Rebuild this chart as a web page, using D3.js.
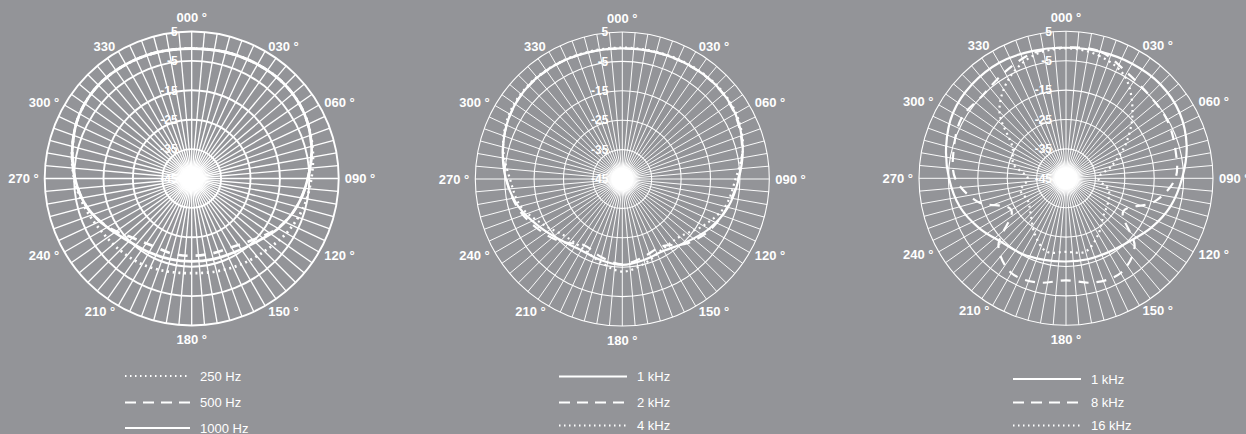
<!DOCTYPE html>
<html>
<head>
<meta charset="utf-8">
<script src="https://cdn.jsdelivr.net/npm/d3@7"></script>
<style>
  html, body { margin: 0; padding: 0; background: #939498; overflow: hidden; }
  svg { display: block; font-family: "Liberation Sans", Arial, sans-serif; }
</style>
</head>
<body>
<div id="chart"></div>
<script>
// angles of the measured points, degrees clockwise from 000
var angles = d3.range(0, 360, 15);

// dB values, one per angle
var hz250  = [-0.8,-0.5,-0.2,0,-0.8,-2.5,-4.3,-5.8,-7.8,-10,-11.3,-12.3,-12.8,-12.3,-11.3,-10.5,-9.4,-7.3,-5,-3,-1,-0.1,-0.2,-0.5];
var hz500  = [-0.8,-0.5,-0.2,0,-0.8,-2.8,-5.5,-8,-11.2,-15.5,-18,-18.6,-18.7,-18.6,-18.5,-16.5,-12,-8,-5.3,-3,-1,-0.1,-0.2,-0.5];
var hz1000 = [-0.8,-0.5,-0.2,0,-0.8,-2.8,-5.5,-8,-11,-14.3,-16,-16.6,-16.8,-16.6,-16,-14.8,-11.8,-8,-5.3,-3,-1,-0.1,-0.2,-0.5];

var midKhz1 = [-0.6,-0.4,-0.1,0.1,-0.6,-2.6,-5.4,-7.8,-11,-14.5,-16.8,-16.5,-15.8,-16.5,-17,-15.5,-12.5,-8.5,-5.4,-3,-1,0,0,-0.4];
var midKhz2 = [-0.6,-0.4,-0.2,0,-0.8,-2.8,-5.6,-8,-10.5,-14,-18.5,-17.5,-16,-17.5,-19,-15,-11.5,-8,-5.6,-3,-1,-0.1,-0.1,-0.4];
var midKhz4 = [-0.3,-0.2,0.1,0.3,-0.3,-2.5,-6.5,-8.8,-13.2,-17.3,-17.5,-15.3,-13.5,-15.8,-17.8,-17.5,-14,-9.2,-6.8,-3,-0.6,0.2,0.1,-0.2];

var rightKhz1  = [-0.6,-0.4,0,0.3,-0.4,-2.5,-5.5,-8.2,-11.5,-14.6,-16,-16.5,-16.7,-16.3,-15.3,-14.2,-11,-7.6,-5.2,-2.8,-0.6,0.2,0.4,-0.2];
var rightKhz8  = [-0.5,-0.3,-3.5,-5,-5.3,-6.5,-7.8,-14,-22.5,-12,-7.8,-8.3,-10.3,-8.3,-7.8,-12.5,-23.5,-14,-7.3,-5.5,-4,-5,-3.3,-1];
var rightKhz16 = [-0.8,-1.8,-5,-13,-21.5,-29,-34,-30,-28.5,-27,-23,-19.2,-20,-19.2,-23.5,-28,-30,-29,-32,-26.5,-24,-13,-6,-1.8];

// grid
var ringValues = [5, -5, -15, -25, -35, -45];
var ringLabels = ["5", "-5", "-15", "-25", "-35", "-45"];
var labelAngles = d3.range(0, 360, 30);
var angleLabels = ["000 °","030 °","060 °","090 °","120 °","150 °","180 °","210 °","240 °","270 °","300 °","330"];

// legends
var leftNames  = ["250 Hz", "500 Hz", "1000 Hz"];
var midNames   = ["1 kHz", "2 kHz", "4 kHz"];
var rightNames = ["1 kHz", "8 kHz", "16 kHz"];

var W = 1246, H = 434;
var svg = d3.select("#chart").append("svg").attr("width", W).attr("height", H);

// soft white glow where the spokes meet
var grad = svg.append("defs").append("radialGradient").attr("id", "hub");
grad.append("stop").attr("offset", "0%").attr("stop-color", "#fff").attr("stop-opacity", 1);
grad.append("stop").attr("offset", "58%").attr("stop-color", "#fff").attr("stop-opacity", 1);
grad.append("stop").attr("offset", "100%").attr("stop-color", "#fff").attr("stop-opacity", 0);

var r = d3.scaleLinear().domain([-45, 5]).range([0, 147]);

var styles = {
    solid:  null,
    dashed: "10,8",
    dotted: "2,3.7"
};

function drawPolar(cx, cy, series, heavy) {
    var g = svg.append("g").attr("transform", "translate(" + cx + "," + cy + ")");

    // spokes every 5 degrees
    g.append("g").selectAll("line")
        .data(d3.range(0, 360, 5))
        .enter().append("line")
        .attr("x1", 0).attr("y1", 0)
        .attr("x2", function (d) { return r(5) * Math.sin(d * Math.PI / 180) })
        .attr("y2", function (d) { return -r(5) * Math.cos(d * Math.PI / 180) })
        .attr("stroke", "#fff")
        .attr("stroke-width", heavy ? 1.3 : 0.95);

    g.append("circle").attr("r", 18).attr("fill", "url(#hub)");

    // rings
    g.append("g").selectAll("circle")
        .data(ringValues.filter(function (v) { return r(v) > 0 }))
        .enter().append("circle")
        .attr("r", function (v) { return r(v) })
        .attr("fill", "none")
        .attr("stroke", "#fff")
        .attr("stroke-width", heavy ? 1.9 : 1.1);

    // curves
    var line = d3.lineRadial()
        .angle(function (d, i) { return angles[i] * Math.PI / 180 })
        .radius(function (d) { return r(d) })
        .curve(d3.curveCatmullRomClosed.alpha(0.5));

    series.forEach(function (s) {
        g.append("path")
            .datum(s.values)
            .attr("d", line)
            .attr("fill", "none")
            .attr("stroke", "#fff")
            .attr("stroke-width", heavy ? 2.7 : 2.2)
            .attr("stroke-dasharray", styles[s.style]);
    });

    // ring labels
    g.append("g").selectAll("text")
        .data(ringValues)
        .enter().append("text")
        .attr("x", -14)
        .attr("y", function (v) { return -r(v) })
        .attr("dy", "0.35em")
        .attr("text-anchor", "end")
        .attr("fill", "#fff")
        .attr("font-size", 12)
        .attr("font-weight", "bold")
        .text(function (v, i) { return ringLabels[i] });

    // angle labels
    g.append("g").selectAll("text")
        .data(labelAngles)
        .enter().append("text")
        .attr("x", function (a) {
            var R = (a % 180 === 0) ? 161 : 153;
            return R * Math.sin(a * Math.PI / 180);
        })
        .attr("y", function (a) {
            var R = (a % 180 === 0) ? 161 : 153;
            return -R * Math.cos(a * Math.PI / 180);
        })
        .attr("dy", "0.35em")
        .attr("text-anchor", function (a) { return a % 180 === 0 ? "middle" : (a < 180 ? "start" : "end") })
        .attr("fill", "#fff")
        .attr("font-size", 13)
        .attr("font-weight", "bold")
        .text(function (a, i) { return angleLabels[i] });
}

function drawLegend(x0, x1, ys, items) {
    var g = svg.append("g");
    items.forEach(function (it, i) {
        g.append("line")
            .attr("x1", x0).attr("x2", x1)
            .attr("y1", ys[i]).attr("y2", ys[i])
            .attr("stroke", "#fff")
            .attr("stroke-width", 2)
            .attr("stroke-dasharray", it.style === "dashed" ? "11,7" : it.style === "dotted" ? "1.5,3.5" : null);
        g.append("text")
            .attr("x", x1 + 10).attr("y", ys[i])
            .attr("dy", "0.35em")
            .attr("fill", "#fff")
            .attr("font-size", 13)
            .text(it.name);
    });
}

drawPolar(191.7, 178.5, [
    { values: hz250, style: "dotted" },
    { values: hz500, style: "dashed" },
    { values: hz1000, style: "solid" }
], true);

drawPolar(622.3, 179, [
    { values: midKhz4, style: "dotted" },
    { values: midKhz2, style: "dashed" },
    { values: midKhz1, style: "solid" }
], false);

drawPolar(1066, 178.3, [
    { values: rightKhz16, style: "dotted" },
    { values: rightKhz8, style: "dashed" },
    { values: rightKhz1, style: "solid" }
], false);

drawLegend(125, 190, [376, 402.5, 428], [
    { name: leftNames[0], style: "dotted" },
    { name: leftNames[1], style: "dashed" },
    { name: leftNames[2], style: "solid" }
]);
drawLegend(559, 627, [376.5, 402.5, 425.5], [
    { name: midNames[0], style: "solid" },
    { name: midNames[1], style: "dashed" },
    { name: midNames[2], style: "dotted" }
]);
drawLegend(1013, 1081, [379, 402.5, 425.5], [
    { name: rightNames[0], style: "solid" },
    { name: rightNames[1], style: "dashed" },
    { name: rightNames[2], style: "dotted" }
]);
</script>
</body>
</html>
